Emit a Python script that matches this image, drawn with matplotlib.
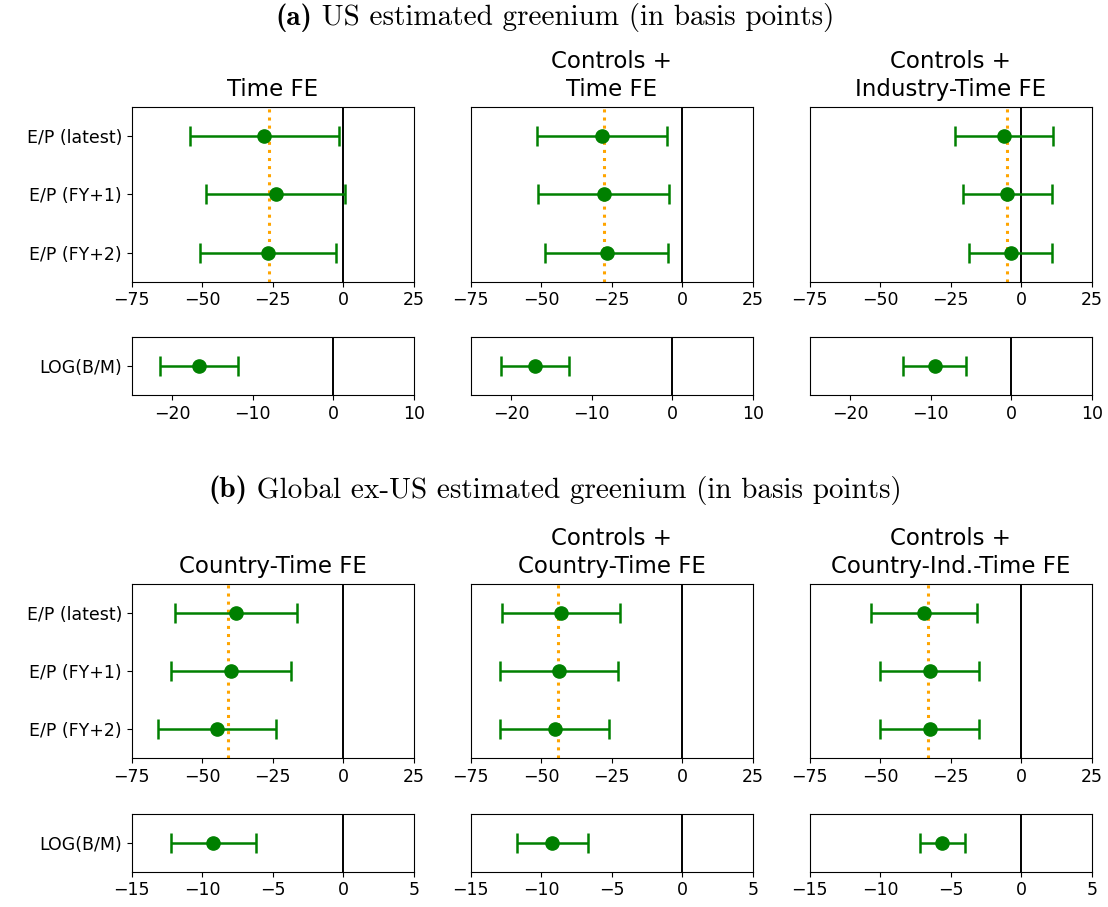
import numpy as np
import matplotlib
matplotlib.use("Agg")
import matplotlib.pyplot as plt

plt.rcParams["mathtext.fontset"] = "cm"

# Earnings-yield measures (top panels)
ep_labels = ["E/P (latest)", "E/P (FY+1)", "E/P (FY+2)"]
bm_labels = ["LOG(B/M)"]

# (a) US: estimates and 95% CI half-widths
us_titles = ["Time FE", "Controls +\nTime FE", "Controls +\nIndustry-Time FE"]
us_ep_est = [[-28.0, -24.0, -26.7],
             [-28.4, -27.9, -26.8],
             [-6.1, -4.9, -3.7]]
us_ep_ci = [[26.4, 24.6, 24.0],
            [23.1, 23.3, 21.9],
            [17.2, 15.9, 14.7]]
us_bm_est = [-16.6, -17.0, -9.5]
us_bm_ci = [4.85, 4.25, 3.9]

# (b) Global ex-US
gl_titles = ["Country-Time FE", "Controls +\nCountry-Time FE",
             "Controls +\nCountry-Ind.-Time FE"]
gl_ep_est = [[-38.0, -39.8, -44.7],
             [-42.9, -43.6, -45.2],
             [-34.6, -32.4, -32.5]]
gl_ep_ci = [[21.5, 21.3, 20.9],
            [21.0, 20.9, 19.4],
            [18.8, 17.6, 17.4]]
gl_bm_est = [-9.2, -9.2, -5.6]
gl_bm_ci = [3.0, 2.55, 1.6]

ep_xlim = (-75, 25)
ep_xticks = [-75, -50, -25, 0, 25]
us_bm_xlim = (-25, 10)
us_bm_xticks = [-20, -10, 0, 10]
gl_bm_xlim = (-15, 5)
gl_bm_xticks = [-15, -10, -5, 0, 5]

section_tags = ["(a)", "(b)"]
section_texts = ["US estimated greenium (in basis points)",
                 "Global ex-US estimated greenium (in basis points)"]

W, H = 1108, 907
fig = plt.figure(figsize=(W / 100, H / 100), dpi=100)

col_left = [131.7, 470.7, 809.7]
col_width = 282.0


def add_ax(x0, top, bottom):
    return fig.add_axes([x0 / W, 1 - bottom / H, col_width / W, (bottom - top) / H])


TICK_FS = 12.5
TITLE_FS = 16.5
GREEN = "green"


def draw_ep(ax, est, ci, title, show_labels):
    y = np.arange(len(est))
    ax.errorbar(est, y, xerr=ci, fmt="o", color=GREEN, ecolor=GREEN,
                markersize=9.5, elinewidth=1.8, capsize=7, capthick=1.8, zorder=3)
    ax.axvline(0, color="black", lw=1.4, zorder=1)
    ax.axvline(np.mean(est), color="orange", ls=":", lw=2.2, zorder=2)
    ax.set_xlim(*ep_xlim)
    ax.set_xticks(ep_xticks)
    ax.set_ylim(len(est) - 0.5, -0.5)
    if show_labels:
        ax.set_yticks(y)
        ax.set_yticklabels(ep_labels)
    else:
        ax.set_yticks([])
    ax.tick_params(labelsize=TICK_FS)
    ax.set_title(title, fontsize=TITLE_FS, pad=8, linespacing=1.25)


def draw_bm(ax, est, ci, xlim, xticks, show_labels):
    ax.errorbar([est], [0], xerr=[ci], fmt="o", color=GREEN, ecolor=GREEN,
                markersize=9.5, elinewidth=1.8, capsize=7, capthick=1.8, zorder=3)
    ax.axvline(0, color="black", lw=1.4, zorder=1)
    ax.set_xlim(*xlim)
    ax.set_xticks(xticks)
    ax.set_ylim(-1, 1)
    if show_labels:
        ax.set_yticks([0])
        ax.set_yticklabels(bm_labels)
    else:
        ax.set_yticks([])
    ax.tick_params(labelsize=TICK_FS)


# Panel (a)
for i in range(3):
    ax = add_ax(col_left[i], 106.7, 281.7)
    draw_ep(ax, us_ep_est[i], us_ep_ci[i], us_titles[i], i == 0)
    ax2 = add_ax(col_left[i], 337.3, 395.0)
    draw_bm(ax2, us_bm_est[i], us_bm_ci[i], us_bm_xlim, us_bm_xticks, i == 0)

# Panel (b)
for i in range(3):
    ax = add_ax(col_left[i], 584.0, 758.3)
    draw_ep(ax, gl_ep_est[i], gl_ep_ci[i], gl_titles[i], i == 0)
    ax2 = add_ax(col_left[i], 814.3, 871.7)
    draw_bm(ax2, gl_bm_est[i], gl_bm_ci[i], gl_bm_xlim, gl_bm_xticks, i == 0)

# Section headings: bold tag followed by roman caption, centred as one line
renderer = fig.canvas.get_renderer()
SEC_FS = 21
for tag, caption, yc in zip(section_tags, section_texts, [18, 490]):
    t1 = fig.text(0, 1 - yc / H, tag, family="cmb10", fontsize=SEC_FS,
                  ha="left", va="center")
    t2 = fig.text(0, 1 - yc / H, " " + caption, family="cmr10", fontsize=SEC_FS,
                  ha="left", va="center")
    w1 = t1.get_window_extent(renderer).width
    w2 = t2.get_window_extent(renderer).width
    x0 = 555 - (w1 + w2) / 2
    t1.set_x(x0 / W)
    t2.set_x((x0 + w1) / W)

fig.savefig("out.png", dpi=100)
